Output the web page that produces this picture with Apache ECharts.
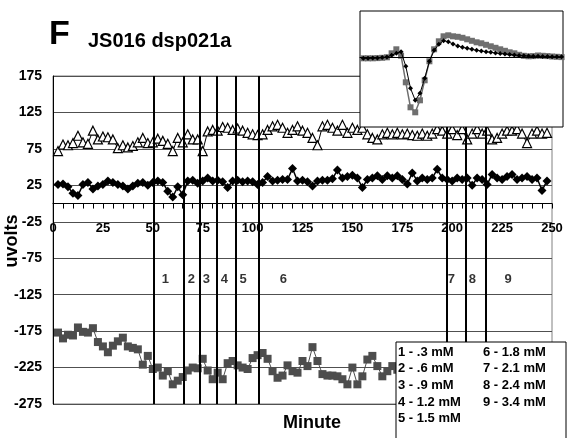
<!DOCTYPE html>
<html>
<head>
<meta charset="utf-8">
<title>JS016 dsp021a</title>
<script src="https://cdn.jsdelivr.net/npm/echarts@6/dist/echarts.min.js"></script>
<style>
  html, body { margin: 0; padding: 0; background: #fff; }
  #chart { width: 568px; height: 438px; }
</style>
</head>
<body>
<div id="chart"></div>
<script>
// samples every 2.5 minutes, starting at 2.5
var sampleStep = 2.5;
var triangleValues = [
  72, 81, 80, 83, 93, 84, 82, 100, 88, 92,
  91, 88, 76, 80, 77, 79, 84, 90, 83, 84,
  89, 86, 82, 72, 90, 84, 95, 88, 88, 72,
  99, 101, 100, 105, 104, 101, 103, 100, 97, 95,
  94, 95, 101, 106, 108, 104, 97, 101, 106, 100,
  97, 90, 80, 106, 108, 104, 100, 108, 97, 104,
  101, 104, 95, 90, 88, 95, 97, 95, 97, 95,
  96, 94, 93, 96, 93, 96, 102, 100, 96, 102,
  94, 102, 88, 96, 102, 96, 100, 88, 90, 96,
  100, 100, 102, 96, 83, 96, 100, 96, 97
];
var diamondValues = [
  26, 27, 23, 14, 11, 26, 29, 20, 24, 26,
  31, 29, 26, 24, 20, 24, 28, 29, 25, 29,
  31, 29, 17, 9, 23, 12, 31, 32, 28, 31,
  35, 31, 32, 30, 22, 31, 32, 30, 31, 30,
  26, 29, 37, 31, 32, 33, 33, 48, 31, 32,
  30, 24, 31, 32, 32, 34, 46, 35, 37, 39,
  35, 22, 33, 35, 38, 33, 38, 35, 38, 33,
  27, 42, 31, 35, 33, 35, 47, 35, 33, 31,
  35, 33, 35, 25, 35, 33, 26, 40, 35, 33,
  37, 40, 33, 35, 37, 33, 35, 18, 31
];
var squareValues = [
  -177, -185, -180, -181, -170, -176, -177, -171, -190, -196,
  -204, -195, -189, -184, -196, -198, -200, -221, -209, -227,
  -225, -236, -230, -248, -243, -238, -229, -225, -226, -213,
  -229, -241, -232, -241, -219, -216, -222, -225, -227, -212,
  -208, -205, -213, -230, -239, -236, -222, -230, -232, -216,
  -223, -197, -216, -234, -236, -236, -237, -241, -248, -225,
  -248, -237, -214, -209, -223, -237, -230, -223, -228, -222
];

// drug application times (vertical lines) and zone numbers
var drugMinutes = [50.3, 65.6, 73.3, 81.8, 91.7, 103, 197.4, 206.9, 216.9];
var zoneNames = ['1', '2', '3', '4', '5', '6', '7', '8', '9'];
var zoneMinutes = [56.3, 69.3, 76.8, 85.8, 95.3, 115.4, 199.6, 210.1, 228];
var zoneLevel = -104;

var legendLeft = ['1 - .3 mM', '2 - .6 mM', '3 - .9 mM', '4 - 1.2 mM', '5 - 1.5 mM'];
var legendRight = ['6 - 1.8 mM', '7 - 2.1 mM', '8 - 2.4 mM', '9 - 3.4 mM'];

// inset waveform (sample index, relative amplitude)
var insetSquares = [
  -1, -1, -1, -0.8, -0.5, 0, 4, 8, 1.6, -25,
  -50, -55, -43, -23, -4, 8, 16, 21, 22, 21,
  20.5, 19.5, 18, 16.5, 15, 14, 12.5, 11, 9.5, 8,
  6.5, 5, 4, 2.5, 1.5, 1, 1.2, 1.8, 1.5, 1.2,
  0.8, 0.5, 0.2
];
var insetDiamonds = [
  -1, -1, -0.8, -0.6, -0.3, 0.3, 2, 4, 5.6, -9,
  -31, -43, -36, -21, -4, 7, 13, 16.6, 15.6, 13.3,
  11.3, 10, 9, 8, 7, 6.3, 5.6, 5, 4.3, 3.8,
  3.3, 2.8, 2.3, 1.8, 1.5, 1.2, 1, 1, 0.8, 0.7,
  0.6, 0.5, 0.5
];

var font = 'Liberation Sans, Arial, sans-serif';

function timed(values) {
  var res = [];
  for (var i = 0; i < values.length; i++) {
    res.push([sampleStep * (i + 1), values[i]]);
  }
  return res;
}
function indexed(values) {
  var res = [];
  for (var i = 0; i < values.length; i++) {
    res.push([i, values[i]]);
  }
  return res;
}

var zoneData = [];
for (var i = 0; i < zoneNames.length; i++) {
  zoneData.push([zoneMinutes[i], zoneLevel, zoneNames[i]]);
}
var drugLines = drugMinutes.map(function (m) { return { xAxis: m }; });

var legendTexts = [];
legendLeft.forEach(function (t, i) {
  legendTexts.push({ type: 'text', z: 51, x: 398, y: 352 + i * 16.7,
    style: { text: t, font: 'bold 13px ' + font, fill: '#000', verticalAlign: 'middle' } });
});
legendRight.forEach(function (t, i) {
  legendTexts.push({ type: 'text', z: 51, x: 483, y: 352 + i * 16.7,
    style: { text: t, font: 'bold 13px ' + font, fill: '#000', verticalAlign: 'middle' } });
});

// plot area: top 76, height 328, value 0 sits 175/450 of the way down
var plotTop = 76, plotHeight = 328;
var zeroY = plotTop + plotHeight * 175 / 450;

var chart = echarts.init(document.getElementById('chart'), null, { renderer: 'canvas' });
chart.setOption({
  animation: false,
  backgroundColor: '#fff',
  grid: [
    { left: 53, right: 16, top: plotTop, height: plotHeight, show: true, borderColor: '#808080', borderWidth: 1 },
    { left: 360, top: 11, width: 203, height: 116 },
    // only carries the minute axis at the zero line
    { left: 53, right: 16, top: plotTop, height: zeroY - plotTop }
  ],
  xAxis: [{
    type: 'value', gridIndex: 0, min: 0, max: 250,
    axisLine: { show: false }, axisTick: { show: false }, axisLabel: { show: false }, splitLine: { show: false }
  }, {
    type: 'value', gridIndex: 1, min: -0.7, max: 42.3, z: 12,
    axisLine: { show: true, onZero: true, lineStyle: { color: '#000', width: 1 } },
    axisTick: { show: false }, axisLabel: { show: false }, splitLine: { show: false }
  }, {
    type: 'value', gridIndex: 2, min: 0, max: 250, interval: 25, position: 'bottom',
    axisLine: { show: true, onZero: false, lineStyle: { color: '#000', width: 1 } },
    axisTick: { show: true, length: 5, lineStyle: { color: '#000' } },
    minorTick: { show: true, splitNumber: 5, length: 5, lineStyle: { color: '#000' } },
    axisLabel: { margin: 18, color: '#000', fontWeight: 'bold', fontSize: 13, fontFamily: font },
    splitLine: { show: false }
  }],
  yAxis: [{
    type: 'value', gridIndex: 0, min: -275, max: 175, interval: 50,
    axisLine: { show: true, lineStyle: { color: '#000', width: 1 } },
    axisTick: { show: false },
    axisLabel: { margin: 11, color: '#000', fontWeight: 'bold', fontSize: 14, fontFamily: font },
    splitLine: { show: true, lineStyle: { color: '#505050', width: 1 } }
  }, {
    type: 'value', gridIndex: 1, min: -69.7, max: 46.3, show: false
  }, {
    type: 'value', gridIndex: 2, min: 0, max: 1, show: false
  }],
  graphic: [
    { type: 'text', x: 49, y: 35, style: { text: 'F', font: 'bold 34px ' + font, fill: '#000', verticalAlign: 'middle' } },
    { type: 'text', x: 88, y: 41, style: { text: 'JS016 dsp021a', font: 'bold 20px ' + font, fill: '#000', verticalAlign: 'middle' } },
    { type: 'text', x: 12, y: 241, rotation: Math.PI / 2,
      style: { text: 'uvolts', font: 'bold 18px ' + font, fill: '#000', align: 'center', verticalAlign: 'middle' } },
    { type: 'text', x: 312, y: 423, style: { text: 'Minute', font: 'bold 18px ' + font, fill: '#000', align: 'center', verticalAlign: 'middle' } },
    { type: 'rect', z: 10, shape: { x: 360, y: 11, width: 203, height: 116 },
      style: { fill: '#fff', stroke: '#000', lineWidth: 1 } },
    { type: 'group', z: 50, children: [
      { type: 'rect', z: 50, shape: { x: 396, y: 342, width: 170, height: 100 },
        style: { fill: '#fff', stroke: '#000', lineWidth: 1 } }
    ].concat(legendTexts) }
  ],
  series: [
    {
      name: 'drugs', type: 'line', xAxisIndex: 0, yAxisIndex: 0, data: [], z: 3,
      markLine: { silent: true, symbol: 'none', label: { show: false },
        lineStyle: { color: '#000', width: 2, type: 'solid' }, data: drugLines }
    },
    {
      name: 'open', type: 'line', xAxisIndex: 0, yAxisIndex: 0, data: timed(triangleValues),
      symbol: 'triangle', symbolSize: 9, z: 4,
      lineStyle: { color: '#000', width: 1 },
      itemStyle: { color: '#fff', borderColor: '#000', borderWidth: 1.2 }
    },
    {
      name: 'filled', type: 'line', xAxisIndex: 0, yAxisIndex: 0, data: timed(diamondValues),
      symbol: 'diamond', symbolSize: 9, z: 4,
      lineStyle: { color: '#000', width: 1.5 },
      itemStyle: { color: '#000' }
    },
    {
      name: 'square', type: 'line', xAxisIndex: 0, yAxisIndex: 0, data: timed(squareValues),
      symbol: 'rect', symbolSize: 8, z: 4,
      lineStyle: { color: '#4d4d4d', width: 1 },
      itemStyle: { color: '#4d4d4d' }
    },
    {
      name: 'zones', type: 'scatter', xAxisIndex: 0, yAxisIndex: 0, data: zoneData,
      symbolSize: 1, itemStyle: { color: 'transparent' }, z: 5,
      label: { show: true, position: 'inside', color: '#000', fontWeight: 'bold', fontSize: 13, fontFamily: font,
        formatter: function (p) { return p.data[2]; } }
    },
    {
      name: 'inset squares', type: 'line', xAxisIndex: 1, yAxisIndex: 1, data: indexed(insetSquares),
      symbol: 'rect', symbolSize: 6, z: 11,
      lineStyle: { color: '#6f6f6f', width: 1.5 },
      itemStyle: { color: '#6f6f6f' }
    },
    {
      name: 'inset diamonds', type: 'line', xAxisIndex: 1, yAxisIndex: 1, data: indexed(insetDiamonds),
      symbol: 'diamond', symbolSize: 5, z: 12,
      lineStyle: { color: '#000', width: 1 },
      itemStyle: { color: '#000' }
    }
  ]
});
</script>
</body>
</html>
